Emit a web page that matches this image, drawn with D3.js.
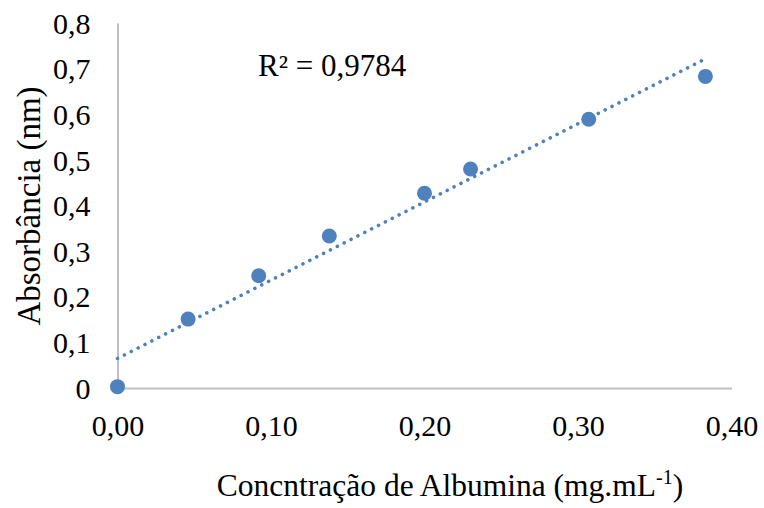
<!DOCTYPE html>
<html>
<head>
<meta charset="utf-8">
<script src="https://cdn.jsdelivr.net/npm/d3@7"></script>
<style>
  html, body { margin: 0; padding: 0; background: #fff; }
  svg { display: block; }
  text { font-family: "Liberation Serif", "Times New Roman", serif; fill: #000; }
</style>
</head>
<body>
<svg id="chart" width="764" height="508"></svg>
<script>
// Albumin calibration curve: concentration (mg/mL) vs. absorbance
const concentration = [0, 0.046, 0.092, 0.138, 0.2, 0.23, 0.307, 0.383];
const absorbance    = [0.003, 0.151, 0.246, 0.333, 0.427, 0.48, 0.589, 0.683];
const xTicks = [0, 0.1, 0.2, 0.3, 0.4];
const yTicks = [0, 0.1, 0.2, 0.3, 0.4, 0.5, 0.6, 0.7, 0.8];
const r2Label = "R² = 0,9784";

const svg = d3.select("#chart");
const x = d3.scaleLinear().domain([0, 0.4]).range([117.5, 731.5]);
const y = d3.scaleLinear().domain([0, 0.8]).range([388, 23]);

const fmtX = v => d3.format(".2f")(v).replace(".", ",");
const fmtY = v => v === 0 ? "0" : d3.format(".1f")(v).replace(".", ",");

// Axes (no tick marks, grey domain lines)
const xAxis = svg.append("g").attr("transform", `translate(0,${y(0)})`)
  .call(d3.axisBottom(x).tickValues(xTicks).tickSize(0).tickPadding(0).tickFormat(fmtX));
xAxis.attr("font-family", null);
xAxis.select(".domain").attr("stroke", "#bfbfbf").attr("stroke-width", 2);
xAxis.selectAll("text").attr("font-size", 30).attr("y", 48).attr("dy", null);

const yAxis = svg.append("g").attr("transform", `translate(${x(0)},0)`)
  .call(d3.axisLeft(y).tickValues(yTicks).tickSize(0).tickPadding(0).tickFormat(fmtY));
yAxis.attr("font-family", null);
yAxis.select(".domain").attr("stroke", "#bfbfbf").attr("stroke-width", 2);
yAxis.selectAll("text").attr("font-size", 30).attr("x", -27).attr("dy", "0.34em");

// Linear least-squares trendline
const n = concentration.length;
const mx = d3.mean(concentration), my = d3.mean(absorbance);
let sxy = 0, sxx = 0;
for (let i = 0; i < n; i++) {
  sxy += (concentration[i] - mx) * (absorbance[i] - my);
  sxx += (concentration[i] - mx) ** 2;
}
const slope = sxy / sxx, intercept = my - slope * mx;
const xEnd = d3.max(concentration);
const trend = [[0, intercept], [xEnd, intercept + slope * xEnd]];

svg.append("path")
  .datum(trend)
  .attr("d", d3.line().x(d => x(d[0])).y(d => y(d[1])))
  .attr("fill", "none")
  .attr("stroke", "#4f81bd")
  .attr("stroke-width", 3.6)
  .attr("stroke-linecap", "round")
  .attr("stroke-dasharray", "0.01 7.7");

// Data points
svg.append("g").selectAll("circle")
  .data(concentration.map((c, i) => [c, absorbance[i]]))
  .join("circle")
  .attr("cx", d => x(d[0]))
  .attr("cy", d => y(d[1]))
  .attr("r", 7.5)
  .attr("fill", "#4f81bd");

// R² annotation
svg.append("text").attr("x", 258).attr("y", 76).attr("font-size", 31).text(r2Label);

// Axis titles
const xt = svg.append("text").attr("x", 450).attr("y", 496)
  .attr("text-anchor", "middle").attr("font-size", 31.5);
xt.append("tspan").text("Concntração de Albumina (mg.mL");
xt.append("tspan").attr("font-size", 20).attr("dy", -12).text("-1");
xt.append("tspan").attr("dy", 12).text(")");

svg.append("text")
  .attr("transform", `translate(40,206) rotate(-90)`)
  .attr("text-anchor", "middle").attr("font-size", 33)
  .text("Absorbância (nm)");
</script>
</body>
</html>
